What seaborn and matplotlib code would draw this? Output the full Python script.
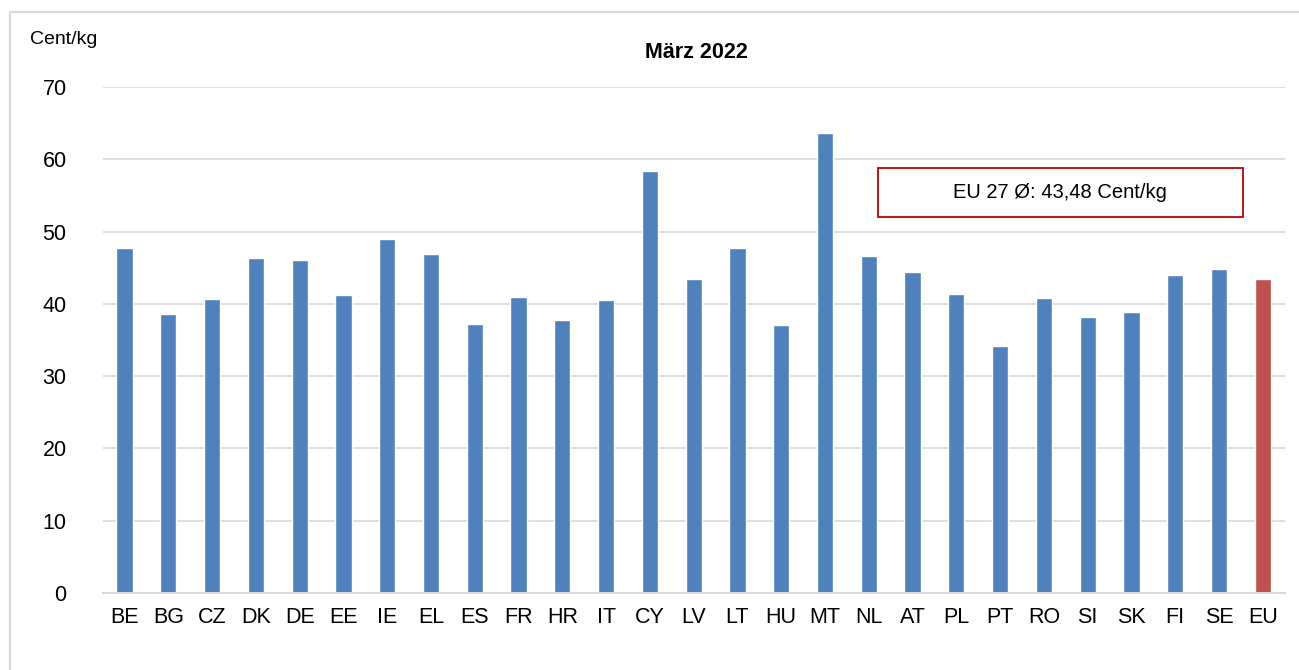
import matplotlib
matplotlib.use('Agg')
import matplotlib.pyplot as plt
import matplotlib.patches as mpatches
import seaborn as sns
import pandas as pd

# Daten
laender = ['BE', 'BG', 'CZ', 'DK', 'DE', 'EE', 'IE', 'EL', 'ES', 'FR', 'HR', 'IT', 'CY', 'LV',
           'LT', 'HU', 'MT', 'NL', 'AT', 'PL', 'PT', 'RO', 'SI', 'SK', 'FI', 'SE', 'EU']
preise = [47.7, 38.6, 40.7, 46.3, 46.1, 41.2, 49.0, 46.9, 37.2, 40.9, 37.8, 40.5, 58.4, 43.4,
          47.7, 37.1, 63.6, 46.6, 44.4, 41.4, 34.2, 40.8, 38.2, 38.9, 44.0, 44.8, 43.48]
gruppe = ['Land'] * 26 + ['EU']

df = pd.DataFrame({'land': laender, 'preis': preise, 'gruppe': gruppe})

sns.set_theme(style='white')
plt.rcParams['font.family'] = ['Liberation Sans', 'DejaVu Sans']
plt.rcParams['text.color'] = 'black'

fig = plt.figure(figsize=(12.99, 6.70), dpi=100)
ax = fig.add_axes([0.079, 0.115, 0.91, 0.755])

sns.barplot(data=df, x='land', y='preis', hue='gruppe',
            palette={'Land': '#4f81bd', 'EU': '#c0504d'},
            dodge=False, width=0.37, legend=False, ax=ax, saturation=1)

ax.set_ylim(0, 70)
ax.set_yticks(range(0, 71, 10))
ax.set_xlim(-0.5, len(laender) - 0.5)
ax.yaxis.grid(True, color='#d9d9d9', linewidth=1.2)
ax.set_axisbelow(True)
for s in ['top', 'right', 'left']:
    ax.spines[s].set_visible(False)
ax.spines['bottom'].set_color('#d9d9d9')
ax.spines['bottom'].set_linewidth(1.5)
ax.tick_params(axis='both', length=0, labelsize=15.5, colors='black')
ax.tick_params(axis='x', pad=10)
ax.tick_params(axis='y', pad=26)
ax.set_xlabel('')
ax.set_ylabel('')

fig.text(696 / 1299, 1 - 52 / 670, 'März 2022', ha='center', va='center',
         fontsize=15.5, fontweight='bold')
fig.text(30 / 1299, 1 - 39 / 670, 'Cent/kg', ha='left', va='center', fontsize=14)

# EU-Durchschnitt Box
fig.text(1060 / 1299, 1 - 193 / 670, 'EU 27 Ø: 43,48 Cent/kg',
         ha='center', va='center', fontsize=14.5)
fig.patches.append(mpatches.Rectangle((878 / 1299, 1 - 217 / 670), 365 / 1299, 49 / 670,
                                      transform=fig.transFigure, fill=False,
                                      edgecolor='#c00000', linewidth=1.3))

# Rahmen
fig.patches.append(mpatches.Rectangle((10 / 1299, -0.05), 1.1, 1 - 12 / 670 + 0.05,
                                      transform=fig.transFigure, fill=False,
                                      edgecolor='#d9d9d9', linewidth=1.6))

fig.savefig('out.png', dpi=100)
